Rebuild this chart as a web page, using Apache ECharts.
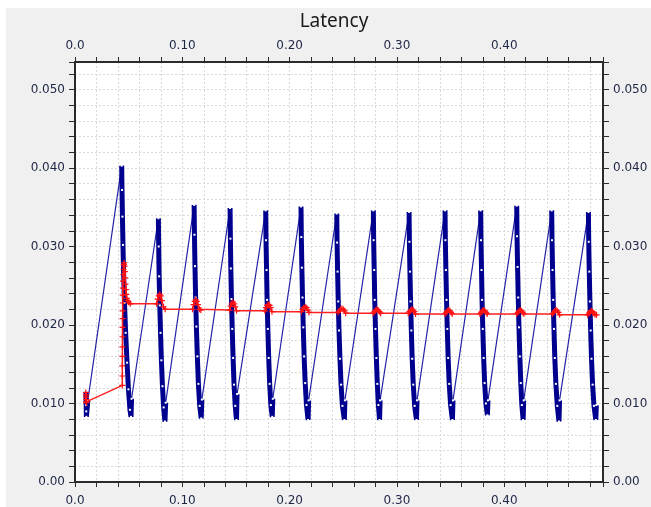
<!DOCTYPE html>
<html><head><meta charset="utf-8">
<script src="https://cdn.jsdelivr.net/npm/echarts@6/dist/echarts.min.js"></script>
<style>
html,body{margin:0;padding:0;background:#fff;overflow:hidden;}
#bg{position:absolute;left:6px;top:8px;width:645px;height:499px;background:#f0f0f0;}
#chart{position:absolute;left:0;top:0;width:651px;height:507px;}
</style></head><body>
<div id="bg"></div><div id="chart"></div>
<script>
// ---- data ----
const titleText = 'Latency';
const xMin = 0, xMax = 0.492, xStep = 0.02;
const yMin = 0, yMax = 0.0535, yStep = 0.002;

// blue latency samples, one array per burst (top -> bottom, then last sample)
const blueCycles = [
 [[0.0102,0.0115],[0.0103,0.0106],[0.0104,0.0098],[0.0105,0.0090],[0.0106,0.0083],[0.0120,0.0104]],
 [[0.0435,0.0403],[0.0438,0.0372],[0.0442,0.0338],[0.0447,0.0302],[0.0453,0.0265],[0.0461,0.0228],[0.0472,0.0190],[0.0485,0.0152],[0.0498,0.0118],[0.0512,0.0092],[0.0522,0.0083],[0.0527,0.0106]],
 [[0.0777,0.0336],[0.0780,0.0300],[0.0784,0.0262],[0.0790,0.0225],[0.0797,0.0190],[0.0805,0.0155],[0.0815,0.0122],[0.0826,0.0095],[0.0838,0.0077],[0.0845,0.0101]],
 [[0.1110,0.0353],[0.1113,0.0315],[0.1118,0.0275],[0.1124,0.0235],[0.1131,0.0198],[0.1140,0.0160],[0.1150,0.0125],[0.1162,0.0097],[0.1176,0.0081],[0.1182,0.0105]],
 [[0.1445,0.0349],[0.1448,0.0310],[0.1452,0.0272],[0.1458,0.0233],[0.1465,0.0195],[0.1473,0.0158],[0.1482,0.0124],[0.1493,0.0097],[0.1505,0.0079],[0.1510,0.0112]],
 [[0.1777,0.0346],[0.1780,0.0308],[0.1785,0.0270],[0.1790,0.0232],[0.1797,0.0195],[0.1805,0.0158],[0.1814,0.0125],[0.1825,0.0098],[0.1838,0.0083],[0.1843,0.0106]],
 [[0.2106,0.0351],[0.2109,0.0312],[0.2114,0.0273],[0.2120,0.0235],[0.2127,0.0197],[0.2135,0.0160],[0.2145,0.0126],[0.2157,0.0098],[0.2172,0.0079],[0.2177,0.0104]],
 [[0.2439,0.0342],[0.2442,0.0305],[0.2447,0.0268],[0.2453,0.0230],[0.2460,0.0193],[0.2469,0.0157],[0.2479,0.0124],[0.2492,0.0097],[0.2510,0.0079],[0.2515,0.0104]],
 [[0.2780,0.0346],[0.2783,0.0308],[0.2788,0.0270],[0.2793,0.0232],[0.2800,0.0195],[0.2808,0.0158],[0.2817,0.0125],[0.2827,0.0098],[0.2838,0.0079],[0.2843,0.0104]],
 [[0.3113,0.0344],[0.3116,0.0306],[0.3121,0.0268],[0.3127,0.0230],[0.3134,0.0193],[0.3142,0.0157],[0.3152,0.0124],[0.3165,0.0097],[0.3182,0.0079],[0.3187,0.0104]],
 [[0.3448,0.0346],[0.3451,0.0308],[0.3456,0.0270],[0.3462,0.0232],[0.3469,0.0195],[0.3477,0.0158],[0.3487,0.0125],[0.3500,0.0098],[0.3517,0.0079],[0.3522,0.0104]],
 [[0.3780,0.0346],[0.3783,0.0308],[0.3788,0.0270],[0.3793,0.0232],[0.3800,0.0195],[0.3808,0.0158],[0.3817,0.0126],[0.3829,0.0100],[0.3843,0.0085],[0.3848,0.0104]],
 [[0.4116,0.0352],[0.4119,0.0313],[0.4124,0.0274],[0.4130,0.0235],[0.4137,0.0197],[0.4145,0.0160],[0.4154,0.0126],[0.4164,0.0098],[0.4176,0.0079],[0.4181,0.0104]],
 [[0.4442,0.0346],[0.4445,0.0308],[0.4450,0.0270],[0.4456,0.0232],[0.4463,0.0195],[0.4471,0.0158],[0.4481,0.0125],[0.4494,0.0097],[0.4510,0.0077],[0.4515,0.0104]],
 [[0.4784,0.0344],[0.4787,0.0306],[0.4792,0.0268],[0.4798,0.0230],[0.4805,0.0193],[0.4813,0.0157],[0.4823,0.0124],[0.4836,0.0097],[0.4853,0.0079],[0.4858,0.0098]]
];

// red running average
const redPoints = [
 [0.0101,0.0114],[0.0102,0.0111],[0.0103,0.0108],[0.0104,0.0105],[0.0105,0.0102],[0.0107,0.0101],
 [0.0441,0.0123],[0.0441,0.0135],[0.0441,0.0148],[0.0442,0.0160],[0.0442,0.0172],[0.0442,0.0185],[0.0443,0.0197],[0.0443,0.0208],[0.0444,0.0218],[0.0444,0.0228],[0.0445,0.0238],[0.0446,0.0247],[0.0447,0.0256],[0.0449,0.0264],[0.0452,0.0271],[0.0455,0.0277],[0.0459,0.0279],[0.0462,0.0275],[0.0465,0.0268],[0.0468,0.0260],[0.0471,0.0252],[0.0474,0.0245],[0.0478,0.0239],[0.0483,0.0234],[0.0490,0.0231],[0.0500,0.0229],[0.0515,0.0227],
 [0.0760,0.0227],[0.0770,0.0233],[0.0780,0.0237],[0.0790,0.0239],[0.0800,0.0237],[0.0810,0.0231],[0.0825,0.0223],[0.0840,0.0220],
 [0.1095,0.0220],[0.1105,0.0226],[0.1115,0.0230],[0.1125,0.0232],[0.1135,0.0230],[0.1145,0.0226],[0.1160,0.0220],[0.1172,0.0219],
 [0.1440,0.0219],[0.1450,0.0224],[0.1460,0.0227],[0.1472,0.0229],[0.1484,0.0227],[0.1494,0.0223],[0.1505,0.0218],
 [0.1770,0.0218],[0.1780,0.0222],[0.1791,0.0225],[0.1802,0.0226],[0.1813,0.0225],[0.1824,0.0222],[0.1835,0.0217],
 [0.2110,0.0217],[0.2120,0.0220],[0.2132,0.0222],[0.2145,0.0223],[0.2158,0.0222],[0.2170,0.0219],[0.2180,0.0216],
 [0.2450,0.0216],[0.2462,0.0218],[0.2475,0.0220],[0.2487,0.0221],[0.2500,0.0220],[0.2512,0.0218],[0.2522,0.0215],
 [0.2778,0.0215],[0.2790,0.0217],[0.2802,0.0219],[0.2813,0.0220],[0.2825,0.0219],[0.2837,0.0217],[0.2848,0.0215],
 [0.3105,0.0215],[0.3117,0.0217],[0.3128,0.0219],[0.3139,0.0220],[0.3151,0.0219],[0.3162,0.0217],[0.3173,0.0214],
 [0.3447,0.0214],[0.3459,0.0216],[0.3470,0.0218],[0.3481,0.0219],[0.3493,0.0218],[0.3504,0.0216],[0.3515,0.0214],
 [0.3773,0.0214],[0.3785,0.0216],[0.3796,0.0218],[0.3807,0.0219],[0.3819,0.0218],[0.3830,0.0216],[0.3841,0.0214],
 [0.4115,0.0214],[0.4127,0.0216],[0.4138,0.0218],[0.4149,0.0219],[0.4161,0.0218],[0.4172,0.0216],[0.4183,0.0214],
 [0.4448,0.0214],[0.4460,0.0216],[0.4471,0.0218],[0.4482,0.0219],[0.4494,0.0218],[0.4505,0.0216],[0.4516,0.0213],
 [0.4777,0.0213],[0.4789,0.0215],[0.4800,0.0217],[0.4811,0.0218],[0.4823,0.0217],[0.4834,0.0215],[0.4845,0.0213],[0.4860,0.0213]
];

// ---- chart ----
const AX = '#2b2b2b';
const labelBase = {color:'#1e2646', fontFamily:'DejaVu Sans', fontSize:12};
function fmtX(v){ const r=Math.round(v*10); if(Math.abs(v*10-r)>1e-6) return ''; return r===0?'0.0':(r/10).toFixed(2); }
function fmtY(v){ const r=Math.round(v*100); if(Math.abs(v*100-r)>1e-6) return ''; return r===0?'0.00':(r/100).toFixed(3); }
const gridLine = {show:true, lineStyle:{color:'#d9d9d9', type:[2,2], width:1}};

function xAx(pos, primary, margin){
  return {type:'value', position:pos, min:xMin, max:xMax, interval:xStep,
    axisLine:{show:true,onZero:false,lineStyle:{color:AX,width:2}},
    axisTick:{show:true,length:5,lineStyle:{color:AX,width:1}},
    axisLabel:Object.assign({margin:margin, formatter:fmtX, showMaxLabel:true, showMinLabel:true}, labelBase),
    splitLine: primary ? gridLine : {show:false}};
}
function yAx(pos, primary){
  return {type:'value', position:pos, min:yMin, max:yMax, interval:yStep,
    axisLine:{show:true,onZero:false,lineStyle:{color:AX,width:2}},
    axisTick:{show:true,length:6,lineStyle:{color:AX,width:1}},
    axisLabel:Object.assign({margin:10, formatter:fmtY}, labelBase),
    splitLine: primary ? gridLine : {show:false}};
}

const crossPath = 'path://M0,4L10,4L10,6L0,6ZM4,0L6,0L6,10L4,10Z';
const series = [];
series.push({type:'line', data:blueCycles.flat(), showSymbol:false, symbol:'none',
  lineStyle:{color:'#2424a6', width:1.2}, z:2, animation:false});
blueCycles.forEach(c => series.push({type:'line', data:c, symbol:'rect', symbolSize:2, showSymbol:true,
  itemStyle:{color:'#ffffff'}, lineStyle:{color:'#00008f', width:5, cap:'butt'}, z:3, animation:false}));
series.push({type:'line', data:redPoints, symbol:crossPath, symbolSize:6, showSymbol:true,
  itemStyle:{color:'#ff1010'}, lineStyle:{color:'#ff2020', width:1.5}, z:5, animation:false});

const chart = echarts.init(document.getElementById('chart'), null, {renderer:'canvas'});
chart.setOption({
  backgroundColor:'transparent',
  animation:false,
  title:{text:titleText, left:329, top:7, textAlign:'center',
    textStyle:{fontFamily:'Noto Sans', fontSize:19, fontWeight:'normal', color:'#1a1a1a'}},
  grid:{left:75, top:62, width:528, height:420, show:true, backgroundColor:'#ffffff', borderWidth:0},
  xAxis:[xAx('bottom', true, 13), xAx('top', false, 10)],
  yAxis:[yAx('left', true), yAx('right', false)],
  series: series
});
</script></body></html>
